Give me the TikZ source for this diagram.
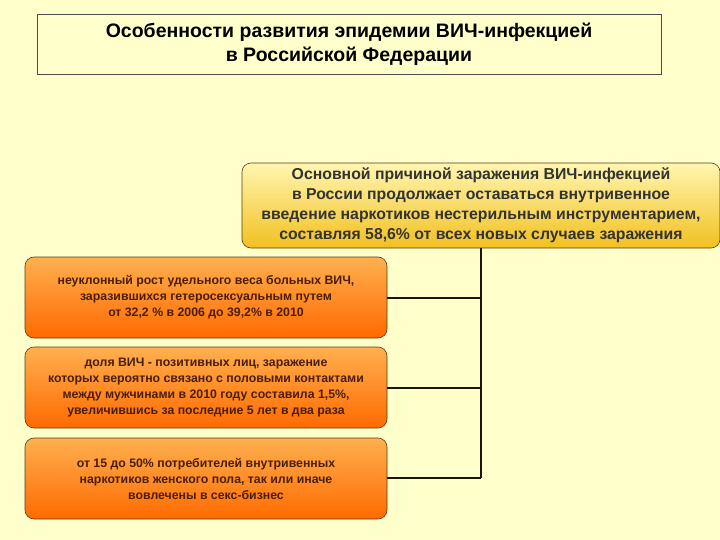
\documentclass[tikz,border=0pt]{standalone}
\usepackage{fontspec}
\setmainfont{Liberation Sans}
\definecolor{bg}{HTML}{FFFFCC}
\definecolor{brd}{HTML}{5A3A10}
\definecolor{otop}{HTML}{FFB050}
\definecolor{obot}{HTML}{FF6A00}
\definecolor{ytop}{HTML}{FFF6B0}
\definecolor{ybot}{HTML}{F2C020}
\definecolor{otext}{HTML}{4A1E05}
\begin{document}
\begin{tikzpicture}[x=1pt,y=-1pt,
 obox/.style={draw=brd,line width=0.6pt,rounded corners=9pt,top color=otop,bottom color=obot,minimum width=362pt,minimum height=81pt,align=center,text=otext,font=\bfseries\fontsize{12.3}{16}\selectfont,inner sep=2pt},
 conn/.style={draw=black!85!brown,line width=1.6pt}]
\useasboundingbox (0,0) rectangle (720,540);
\fill[bg] (0,0) rectangle (720,540);
\node[draw=black!70,line width=0.5pt,fill=bg,minimum width=624pt,minimum height=60pt,align=center,font=\bfseries\fontsize{19.5}{24}\selectfont] (title) at (349,44) {Особенности развития эпидемии  ВИЧ-инфекцией\\в Российской Федерации};
\node[draw=brd,line width=0.6pt,rounded corners=9pt,top color=ytop,bottom color=ybot,minimum width=478pt,minimum height=85pt,align=center,text=black!80,font=\bfseries\fontsize{15.8}{20}\selectfont,inner sep=1pt] (main) at (481,205.5) {Основной причиной заражения ВИЧ-инфекцией\\в России  продолжает оставаться   внутривенное\\введение наркотиков нестерильным  инструментарием,\\составляя 58,6\% от всех новых случаев заражения};
\coordinate (j1) at (481,298);
\coordinate (j2) at (481,388);
\coordinate (j3) at (481,478);
\draw[conn] (main.south -| j1) -- (j3);
\node[obox] (b1) at (206,297.5) {неуклонный рост  удельного веса больных ВИЧ,\\заразившихся гетеросексуальным путем\\от 32,2 \% в 2006  до 39,2\%  в 2010};
\node[obox] (b2) at (206,387.5) {доля ВИЧ - позитивных лиц, заражение\\которых вероятно связано с половыми контактами\\между мужчинами в 2010 году составила 1,5\%,\\увеличившись за последние 5 лет в два раза};
\node[obox] (b3) at (206,478.5) {от 15 до 50\% потребителей внутривенных\\наркотиков женского пола, так или иначе\\вовлечены в секс-бизнес};
\draw[conn] (j1) -- (b1.east |- j1);
\draw[conn] (j2) -- (b2.east |- j2);
\draw[conn] (j3) -- (b3.east |- j3);
\end{tikzpicture}
\end{document}
